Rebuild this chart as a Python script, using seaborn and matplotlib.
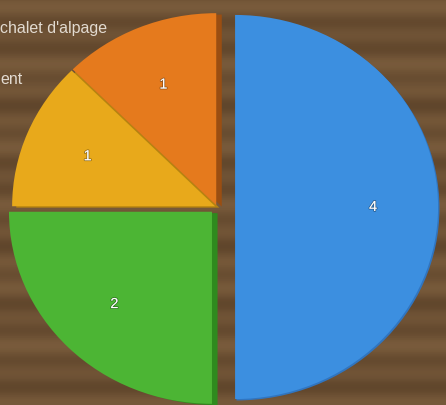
import matplotlib
matplotlib.use("Agg")
import matplotlib.pyplot as plt
import matplotlib.patheffects as pe
import numpy as np
import seaborn as sns

sns.set_style("white")
plt.rcParams['font.family'] = ['Liberation Sans', 'DejaVu Sans']

# data
categories = ["A", "B", "C", "D"]
values = [4, 2, 1, 1]
colors = ["#3c8fe0", "#4cb534", "#e8a91b", "#e57a1d"]
side_colors = ["#3075c0", "#2f8a1e", "#b58310", "#9a4e12"]
explode = [0.089, 0.035, 0.01, 0.01]
legend_texts = ["chalet d'alpage", "ent"]

W, H = 446, 406
XL = (-1.069, 1.128)
YL = (-1.031, 1.083)
fig = plt.figure(figsize=(W / 100, H / 100), dpi=100)
bg = "#6d5135"
fig.patch.set_facecolor(bg)
ax = fig.add_axes([0, 0, 1, 1])
ax.set_facecolor(bg)

# wood grain (decorative background)
ys = np.linspace(0, 1, 200)
grain = 0.5 + 0.25 * np.sin(ys * 90) + 0.15 * np.sin(ys * 37 + 1.3)
ax.imshow(grain[:, None] * np.ones((1, 10)), extent=[XL[0], XL[1], YL[0], YL[1]],
          aspect="auto", cmap=matplotlib.colors.LinearSegmentedColormap.from_list(
              "wood", ["#5f452b", "#7b5d3d"]), zorder=0, alpha=0.9)

total = sum(values)
wedges, texts, autotexts = ax.pie(
    values, colors=colors, explode=explode, startangle=90, counterclock=False,
    radius=1.0, autopct=lambda p: f"{round(p * total / 100)}", pctdistance=0.68,
    textprops=dict(color="white", fontsize=10.5),
    wedgeprops=dict(linewidth=0),
)
offsets = [(1, -1), (4, -1), (3, -1), (4, -1)]
for w, sc, off in zip(wedges, side_colors, offsets):
    w.set_zorder(2)
    w.set_path_effects([pe.SimplePatchShadow(offset=off, shadow_rgbFace=sc, alpha=1.0),
                        pe.Normal()])
for t in autotexts:
    t.set_zorder(3)
    t.set_path_effects([pe.withStroke(linewidth=1.2, foreground="#00000055")])

ax.set_aspect("auto")
ax.set_xlim(*XL)
ax.set_ylim(*YL)
ax.axis("off")

fig.text(0 / W, 1 - 28 / H, legend_texts[0], color="#e2dad0", fontsize=11.5, va="center", ha="left")
fig.text(0 / W, 1 - 80 / H, legend_texts[1], color="#e2dad0", fontsize=11.5, va="center", ha="left")

fig.savefig("out.png", dpi=100, facecolor=bg)
